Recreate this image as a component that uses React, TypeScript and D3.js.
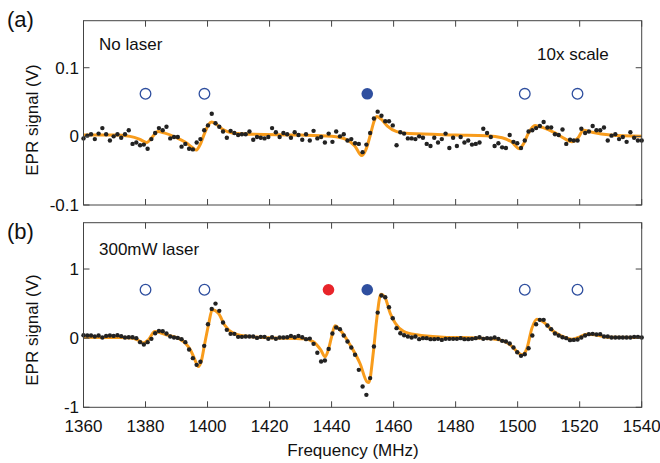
import React from "react";
import * as d3 from "d3";

// frequency axis (MHz)
const freqRange = [1360, 1540];
const xTicks = [1360, 1380, 1400, 1420, 1440, 1460, 1480, 1500, 1520, 1540];

// (a) no laser, measured points (V), evenly sampled over freqRange
const noLaserSignal = [
  -0.003, 0.001, 0.003, -0.004, 0.004, 0.012, 0.003, -0.006, 0.0, 0.003, -0.002, 0.003, 0.009,
  -0.011, -0.009, -0.013, -0.012, -0.018, -0.004, 0.005, 0.012, 0.009, 0.014, -0.003, -0.001,
  -0.001, -0.015, -0.011, -0.018, -0.019, -0.009, -0.004, 0.009, 0.016, 0.033, 0.019, 0.014, 0.007,
  -0.002, 0.008, 0.005, 0.002, 0.003, 0.003, 0.007, -0.005, -0.001, -0.002, -0.003, -0.001, 0.012,
  0.006, -0.001, 0.005, 0.003, -0.002, 0.006, 0.002, -0.005, 0.003, -0.006, 0.008, -0.003, -0.001,
  -0.009, 0.004, -0.008, 0.007, 0.0, 0.003, -0.006, -0.004, -0.01, -0.011, -0.023,
  -0.012, 0.005, 0.026, 0.036, 0.03, 0.022, 0.022, 0.016, -0.013, 0.006, 0.004, -0.003, -0.003,
  -0.004, 0.0, -0.002, -0.011, -0.014, -0.002, -0.009, -0.004, 0.004, -0.017, -0.002, -0.014,
  -0.001, -0.009, -0.006, -0.012, -0.011, -0.009, 0.011, 0.005, -0.001, -0.014, -0.01, -0.016, -0.017,
  0.002, -0.008, -0.01, -0.017, -0.006, 0.007, 0.009, 0.012, 0.015, 0.021, 0.013, 0.013, 0.003,
  0.002, 0.01, -0.011, -0.005, -0.006, -0.006, 0.011, 0.005, 0.007, 0.015, 0.009, 0.009, 0.013,
  -0.006, 0.001, 0.003, -0.004, -0.001, -0.008, 0.006, -0.002, -0.006, -0.006,
];

// (b) 300mW laser, measured points (V)
const laserSignal = [
  0.043, 0.038, 0.038, 0.024, 0.038, 0.009, 0.033, 0.038, 0.033, 0.043, 0.029, 0.009, 0.014,
  0.014, 0.0, -0.058, -0.092, -0.058, -0.01, 0.072, 0.105, 0.101, 0.067, 0.024, 0.009, 0.004,
  -0.014, -0.058, -0.164, -0.289, -0.386, -0.342, -0.111, 0.202, 0.423, 0.5, 0.395, 0.226,
  0.12, 0.062, 0.062, 0.019, 0.019, 0.024, 0.024, 0.024, 0.004, 0.019, 0.019, -0.01, 0.014,
  -0.01, 0.009, 0.009, 0.014, 0.033, 0.014, 0.033, 0.014, -0.014, -0.006, -0.082, -0.212,
  -0.338, -0.323, -0.155, 0.067, 0.154, 0.13, 0.038, -0.048, -0.135, -0.241, -0.458, -0.699,
  -0.82, -0.578, -0.121, 0.37, 0.616, 0.592, 0.448, 0.289, 0.145, 0.072, 0.043, 0.024, 0.009,
  0.024, -0.014, 0.0, 0.0, -0.014, -0.014, -0.01, -0.025, -0.01, -0.01, -0.01, -0.01, 0.0,
  -0.014, -0.014, -0.01, 0.0, 0.014, -0.01, 0.0, -0.005, 0.009, -0.01, -0.039, -0.048,
  -0.077, -0.135, -0.203, -0.256, -0.232, -0.145, 0.038, 0.202, 0.265, 0.265, 0.183, 0.13,
  0.067, 0.038, 0.014, 0.0, -0.029, -0.025, -0.02, 0.009, 0.038, 0.058, 0.062, 0.053, 0.058,
  0.024, 0.024, 0.009, 0.009, 0.009, 0.009, 0.009, 0.009, 0.019, 0.019, 0.009,
];

// fitted curves [MHz, V]
const noLaserFit: [number, number][] = [
  [1360, 0.002], [1370, 0.002], [1375, 0.0], [1378, -0.004], [1380.4, -0.009], [1382, -0.002],
  [1384, 0.007], [1386, 0.005], [1390, -0.002], [1393, -0.009], [1395, -0.016], [1396.3, -0.02],
  [1397.5, -0.013], [1399, 0.004], [1400.3, 0.017], [1401.3, 0.021], [1403, 0.017], [1405, 0.01],
  [1408, 0.005], [1415, 0.003], [1430, 0.002], [1440, 0.0], [1445, -0.005], [1447.5, -0.014],
  [1449.7, -0.028], [1451, -0.02], [1452.5, 0.002], [1453.7, 0.022], [1454.6, 0.029], [1456, 0.025],
  [1458, 0.015], [1461, 0.007], [1465, 0.004], [1480, 0.002], [1490, 0.001], [1495, -0.002],
  [1498, -0.008], [1500.6, -0.018], [1502, -0.01], [1503.5, 0.005], [1505.6, 0.016], [1508, 0.013],
  [1512, 0.005], [1515, -0.003], [1517.5, -0.008], [1519.5, -0.002], [1521.2, 0.009], [1524, 0.006],
  [1530, 0.002], [1540, 0.0],
];

const laserFit: [number, number][] = [
  [1360, 0.012], [1372, 0.01], [1376, 0.0], [1378, -0.04], [1379.3, -0.07], [1381, -0.02],
  [1383, 0.095], [1385, 0.075], [1387, 0.045], [1391, -0.01], [1393, -0.08], [1394.5, -0.17],
  [1396, -0.32], [1397, -0.41], [1398, -0.33], [1399, -0.1], [1400.3, 0.19], [1401.5, 0.41],
  [1403.5, 0.36], [1405.5, 0.19], [1408, 0.08], [1412, 0.03], [1420, 0.005], [1431, -0.01],
  [1434, -0.05], [1436.5, -0.17], [1437.9, -0.27], [1439, -0.16], [1440, 0.02], [1441.1, 0.18],
  [1442.7, 0.12], [1446, -0.1], [1449.2, -0.37], [1451.4, -0.63], [1452, -0.64], [1453.5, -0.19],
  [1454.6, 0.29], [1455.9, 0.636], [1457.3, 0.58], [1458.9, 0.36], [1460.5, 0.22], [1463.2, 0.1],
  [1467.5, 0.048], [1476, 0.015], [1487, 0.002], [1492, -0.01], [1495.4, -0.04], [1497.6, -0.097],
  [1500.8, -0.23], [1501.4, -0.24], [1503, -0.145], [1504.6, 0.145], [1506.2, 0.275],
  [1507.8, 0.25], [1511.6, 0.095], [1515.9, 0.0], [1517.5, -0.015], [1519.5, 0.01],
  [1522.3, 0.058], [1525, 0.05], [1528.8, 0.014], [1540, 0.01],
];

// transition markers
const openLines = [1380, 1399, 1502.3, 1519.3];
const blueLines = [1451.5];
const redLines = [1439];

const LEFT = 83.5;
const RIGHT = 641.7;
const FONT = "'Liberation Sans', Arial, Helvetica, sans-serif";
const ORANGE = "#f89c1c";
const BLUE = "#2f4f9f";
const RED = "#e8242a";

const x = d3.scaleLinear().domain(freqRange).range([LEFT, RIGHT]);

type PanelProps = {
  top: number;
  bottom: number;
  domain: [number, number];
  yTicks: number[];
  yLabels: string[];
  signal: number[];
  fit: [number, number][];
  markerLevel: number;
  red: number[];
  tag: string;
  tagY: number;
  note: string;
  noteY: number;
  extra?: string;
  labelY: number;
  showX: boolean;
};

function Panel(p: PanelProps) {
  const y = d3.scaleLinear().domain(p.domain).range([p.bottom, p.top]);
  const idx = d3.scaleLinear().domain([0, p.signal.length - 1]).range(freqRange);
  const line = d3
    .line<[number, number]>()
    .x((d) => x(d[0]))
    .y((d) => y(d[1]))
    .curve(d3.curveMonotoneX);
  const tl = 6;
  return (
    <g>
      <path d={line(p.fit) || ""} fill="none" stroke={ORANGE} strokeWidth={3} strokeLinejoin="round" />
      {p.signal.map((v, i) => (
        <circle key={i} cx={x(idx(i))} cy={y(v)} r={2.2} fill="#222" />
      ))}
      {openLines.map((f) => (
        <circle key={"o" + f} cx={x(f)} cy={y(p.markerLevel)} r={5.3} fill="none" stroke={BLUE} strokeWidth={1.3} />
      ))}
      {blueLines.map((f) => (
        <circle key={"b" + f} cx={x(f)} cy={y(p.markerLevel)} r={5.8} fill={BLUE} />
      ))}
      {p.red.map((f) => (
        <circle key={"r" + f} cx={x(f)} cy={y(p.markerLevel)} r={5.8} fill={RED} />
      ))}
      <rect x={LEFT} y={p.top} width={RIGHT - LEFT} height={p.bottom - p.top} fill="none" stroke="#444" strokeWidth={1} />
      {xTicks.map((t) => (
        <g key={t}>
          <line x1={x(t)} x2={x(t)} y1={p.bottom} y2={p.bottom - tl} stroke="#444" />
          <line x1={x(t)} x2={x(t)} y1={p.top} y2={p.top + tl} stroke="#444" />
          {p.showX && (
            <text x={x(t)} y={p.bottom + 24.4} textAnchor="middle" fontSize={17} fontFamily={FONT} fill="#111">
              {t}
            </text>
          )}
        </g>
      ))}
      {p.yTicks.map((t, i) => (
        <g key={t}>
          <line x1={LEFT} x2={LEFT + tl} y1={y(t)} y2={y(t)} stroke="#444" />
          <line x1={RIGHT} x2={RIGHT - tl} y1={y(t)} y2={y(t)} stroke="#444" />
          <text x={LEFT - 4.5} y={y(t) + 6.1} textAnchor="end" fontSize={17} fontFamily={FONT} fill="#111">
            {p.yLabels[i]}
          </text>
        </g>
      ))}
      <text
        transform={`translate(37.5,${p.labelY}) rotate(-90)`}
        textAnchor="middle"
        fontSize={17}
        fontFamily={FONT}
        fill="#111"
      >
        EPR signal (V)
      </text>
      <text x={7} y={p.tagY} fontSize={22} fontFamily={FONT} fill="#111">
        {p.tag}
      </text>
      <text x={99} y={p.noteY} fontSize={17} fontFamily={FONT} fill="#111">
        {p.note}
      </text>
      {p.extra && (
        <text x={537} y={p.top + 39.3} fontSize={17} fontFamily={FONT} fill="#111">
          {p.extra}
        </text>
      )}
    </g>
  );
}

export default function App() {
  return (
    <svg width={660} height={463} style={{ position: "absolute", left: 0, top: 0, background: "#fff" }}>
      <Panel
        top={20.7}
        bottom={205}
        domain={[-0.1, 0.1685]}
        yTicks={[-0.1, 0, 0.1]}
        yLabels={["-0.1", "0", "0.1"]}
        signal={noLaserSignal}
        fit={noLaserFit}
        markerLevel={0.062}
        red={[]}
        tag="(a)"
        tagY={27}
        note="No laser"
        noteY={50}
        extra="10x scale"
        labelY={120}
        showX={false}
      />
      <Panel
        top={222.7}
        bottom={407.3}
        domain={[-1, 1.67]}
        yTicks={[-1, 0, 1]}
        yLabels={["-1", "0", "1"]}
        signal={laserSignal}
        fit={laserFit}
        markerLevel={0.7}
        red={redLines}
        tag="(b)"
        tagY={238.7}
        note="300mW laser"
        noteY={255}
        labelY={330}
        showX={true}
      />
      <text x={353} y={455.5} textAnchor="middle" fontSize={17} fontFamily={FONT} fill="#111">
        Frequency (MHz)
      </text>
    </svg>
  );
}
